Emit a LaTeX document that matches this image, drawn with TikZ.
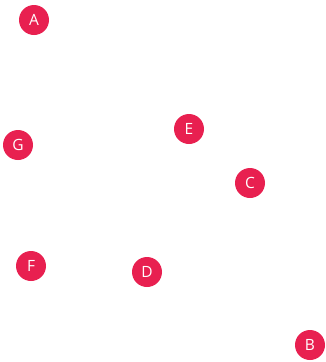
\documentclass[tikz,border=0pt]{standalone}
\usepackage{fontspec}
\setmainfont{Open Sans}
\definecolor{dotred}{RGB}{232,32,80}
\begin{document}
\begin{tikzpicture}[x=1pt, y=-1pt,
    vertex/.style={circle, fill=dotred, minimum size=30pt, inner sep=0pt,
        text=white, font=\fontsize{15.5}{17}\selectfont}]
    % Canvas
    \useasboundingbox (0,0) rectangle (325,362);

    % Points
    \foreach \name/\x/\y in {
        A/34/20,
        E/189/129,
        G/18/145,
        C/250/183,
        F/31/266,
        D/147/272,
        B/310/345
    } {
        \node[vertex] (\name) at (\x,\y) {\name};
    }
\end{tikzpicture}
\end{document}
